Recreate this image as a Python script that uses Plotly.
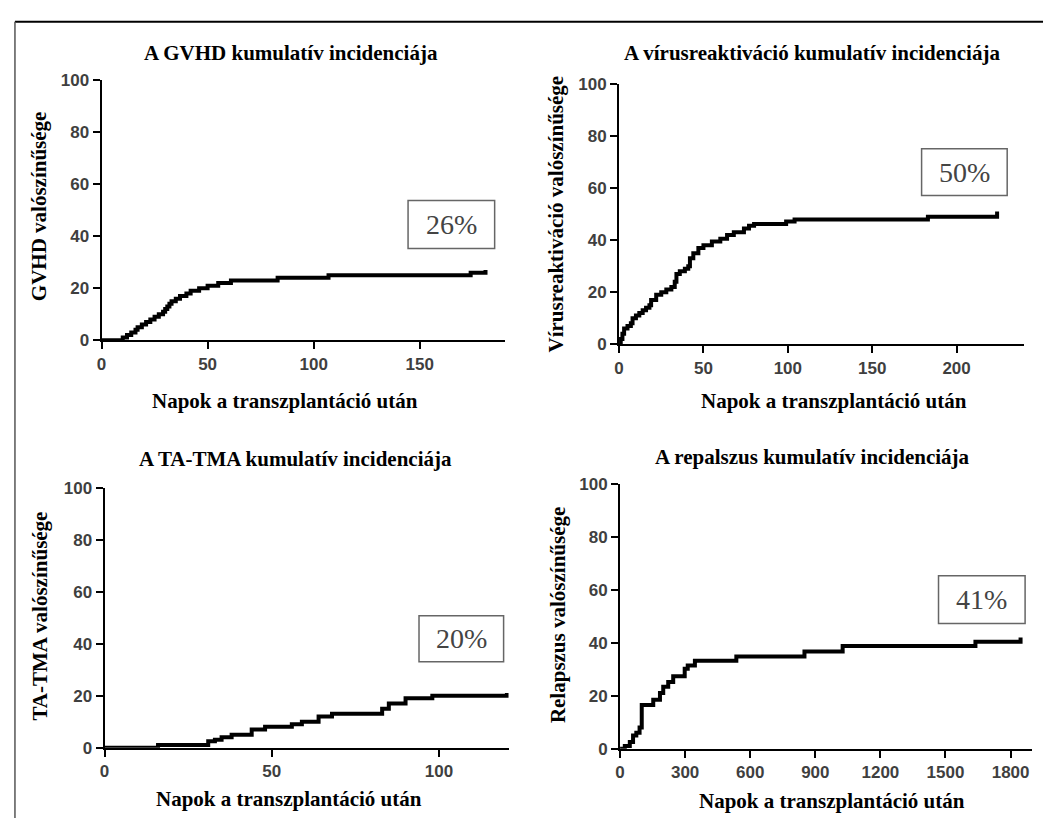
import plotly.graph_objects as go

W, H = 1046, 828

# ---------------- data ----------------
gvhd_days = [0, 10, 12, 14, 16, 17, 19, 21, 23, 25, 27, 29, 30, 31, 32, 33, 35, 37, 40, 42, 46, 50, 55, 61, 83, 107, 174, 180, 181]
gvhd_pct = [0, 1, 2, 3, 4, 5, 6, 7, 8, 9, 10, 11, 12, 13, 14, 15, 16, 17, 18, 19, 20, 21, 22, 23, 24, 25, 26, 26, 27]

virus_days = [0, 1, 2, 3, 5, 7, 8, 10, 12, 14, 16, 18, 19, 22, 25, 28, 31, 33, 34, 36, 39, 41, 42, 44, 47, 50, 55, 60, 64, 68, 74, 77, 80, 99, 104, 183, 223, 224]
virus_pct = [0, 2, 4, 6, 7, 8, 10, 11, 12, 13, 14, 15, 17, 19, 20, 21, 22, 24, 27, 28, 29, 30, 33, 35, 37, 38, 39.5, 40.5, 42, 43, 44.5, 45.5, 46.2, 47.2, 48, 49, 49, 51]

tma_days = [0, 16, 31, 33, 35, 38, 44, 48, 56, 59, 64, 68, 83, 85, 90, 98, 119.5, 120.3]
tma_pct = [0, 1, 2.5, 3, 4, 5, 7, 8, 9, 10, 12, 13, 15, 17, 19, 20, 20, 21]

rel_days = [0, 22, 45, 60, 75, 90, 100, 153, 184, 199, 222, 245, 298, 312, 345, 536, 850, 1026, 1638, 1840, 1846]
rel_pct = [0, 1, 2.5, 5, 6, 8, 16.5, 18.5, 21, 23.4, 25.2, 27.3, 30.2, 31.4, 33.2, 34.8, 36.7, 38.8, 40.4, 40.4, 42]

titles = ["A GVHD kumulatív incidenciája",
          "A vírusreaktiváció kumulatív incidenciája",
          "A TA-TMA kumulatív incidenciája",
          "A repalszus kumulatív incidenciája"]
ytitles = ["GVHD valószínűsége",
           "Vírusreaktiváció valószínűsége",
           "TA-TMA valószínűsége",
           "Relapszus valószínűsége"]
xtitle = "Napok a transzplantáció után"
pct_labels = ["26%", "50%", "20%", "41%"]
x_ticks = [[0, 50, 100, 150],
           [0, 50, 100, 150, 200],
           [0, 50, 100],
           [0, 300, 600, 900, 1200, 1500, 1800]]
y_ticks = [0, 20, 40, 60, 80, 100]
x_ranges = [[0, 190], [0, 240], [0, 120.8], [0, 1899]]

series = [(gvhd_days, gvhd_pct), (virus_days, virus_pct), (tma_days, tma_pct), (rel_days, rel_pct)]

# ---------------- layout geometry (pixels) ----------------
def px(x):
    return x / W

def py(y):
    return 1 - y / H

# plot areas: (left, right, top(100), bottom(0))
areas = [(97, 502, 73, 339),
         (617, 1024, 77, 343),
         (100, 506, 490, 756),
         (618, 1032, 486, 757)]
title_pos = [(287, 45), (811, 45), (292, 461), (811, 459)]
xtitle_pos = [(281, 401), (833, 401), (285, 809), (831, 811)]
ytitle_pos = [(35, 202), (554, 210), (35, 621), (555, 620)]
boxes = [(405, 492, 196, 245), (921, 1007, 143, 191), (416, 501, 621, 668), (938, 1025, 580, 629)]

fig = go.Figure()
layout = dict(width=W, height=H, margin=dict(l=0, r=0, t=0, b=0),
              paper_bgcolor="white", plot_bgcolor="white", showlegend=False)

tickfont = dict(family="Liberation Sans, Arial", size=17, color="#3f3f3f", weight="bold")
annotations = []
shapes = []

for i in range(4):
    xa = "x" if i == 0 else f"x{i+1}"
    ya = "y" if i == 0 else f"y{i+1}"
    l, r, t, b = areas[i]
    d, v = series[i]
    fig.add_trace(go.Scatter(x=d, y=v, mode="lines", line=dict(color="black", width=4, shape="hv"),
                             xaxis=xa, yaxis=ya, hoverinfo="skip"))
    xkey = "xaxis" if i == 0 else f"xaxis{i+1}"
    ykey = "yaxis" if i == 0 else f"yaxis{i+1}"
    layout[xkey] = dict(domain=[px(l), px(r)], range=x_ranges[i], anchor=ya,
                        tickvals=x_ticks[i], showgrid=False, zeroline=False,
                        showline=True, linecolor="black", linewidth=2,
                        ticks="outside", ticklen=7, tickwidth=2, tickcolor="black",
                        tickfont=tickfont, fixedrange=True)
    layout[ykey] = dict(domain=[py(b), py(t)], range=[0, 100], anchor=xa,
                        tickvals=y_ticks, showgrid=False, zeroline=False,
                        showline=True, linecolor="black", linewidth=2,
                        ticks="outside", ticklen=7, tickwidth=2, tickcolor="black",
                        tickfont=tickfont, fixedrange=True)
    serif_bold = dict(family="Liberation Serif, Times New Roman", size=21, color="black", weight="bold")
    annotations.append(dict(text=titles[i], x=px(title_pos[i][0]), y=py(title_pos[i][1]),
                            xref="paper", yref="paper", showarrow=False,
                            xanchor="center", yanchor="middle", font=serif_bold))
    annotations.append(dict(text=xtitle, x=px(xtitle_pos[i][0]), y=py(xtitle_pos[i][1]),
                            xref="paper", yref="paper", showarrow=False,
                            xanchor="center", yanchor="middle", font=serif_bold))
    annotations.append(dict(text=ytitles[i], x=px(ytitle_pos[i][0]), y=py(ytitle_pos[i][1]),
                            xref="paper", yref="paper", showarrow=False, textangle=-90,
                            xanchor="center", yanchor="middle", font=serif_bold))
    bl, br, bt, bb = boxes[i]
    shapes.append(dict(type="rect", xref="paper", yref="paper",
                       x0=px(bl), x1=px(br), y0=py(bb), y1=py(bt),
                       line=dict(color="#666666", width=1.5), fillcolor="rgba(0,0,0,0)"))
    annotations.append(dict(text=pct_labels[i], x=px((bl + br) / 2), y=py((bt + bb) / 2),
                            xref="paper", yref="paper", showarrow=False,
                            xanchor="center", yanchor="middle",
                            font=dict(family="Liberation Serif, Times New Roman", size=28, color="#444444")))

# outer frame lines
shapes.append(dict(type="line", xref="paper", yref="paper", x0=px(10), x1=px(1043), y0=py(13), y1=py(13),
                   line=dict(color="black", width=2)))
shapes.append(dict(type="line", xref="paper", yref="paper", x0=px(10), x1=px(10), y0=py(13), y1=py(828),
                   line=dict(color="#555555", width=1.5)))

layout["annotations"] = annotations
layout["shapes"] = shapes
fig.update_layout(**layout)
fig.write_html("out.html", config={"displayModeBar": False, "staticPlot": True},
               post_script="document.body.style.margin='0';document.body.style.overflow='hidden';")
